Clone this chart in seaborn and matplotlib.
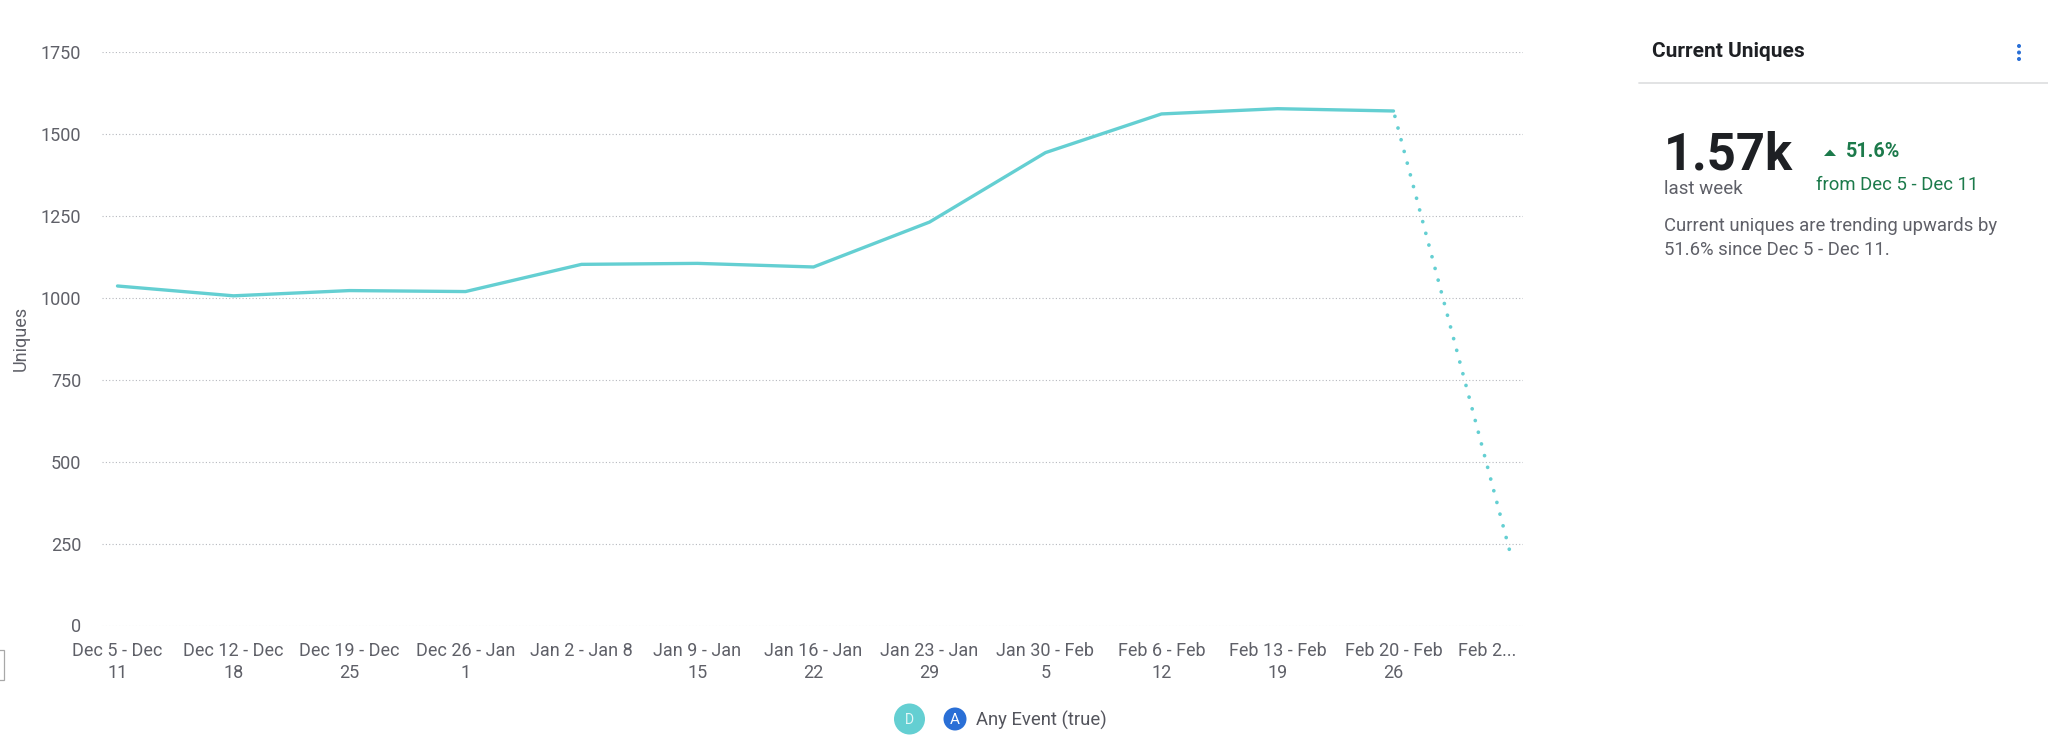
import matplotlib
matplotlib.use('Agg')
import matplotlib.pyplot as plt
import pandas as pd
import seaborn as sns
from matplotlib.patches import Circle, Polygon, Rectangle
from matplotlib.transforms import ScaledTranslation

week_labels = ['Dec 5 - Dec\n11', 'Dec 12 - Dec\n18', 'Dec 19 - Dec\n25', 'Dec 26 - Jan\n1',
               'Jan 2 - Jan 8', 'Jan 9 - Jan\n15', 'Jan 16 - Jan\n22', 'Jan 23 - Jan\n29',
               'Jan 30 - Feb\n5', 'Feb 6 - Feb\n12', 'Feb 13 - Feb\n19', 'Feb 20 - Feb\n26',
               'Feb 2...']
weeks = list(range(13))
uniques = [1036, 1006, 1022, 1019, 1102, 1105, 1094, 1231, 1443, 1561, 1577, 1570, 230]
complete_weeks = 12
y_ticks = [0, 250, 500, 750, 1000, 1250, 1500, 1750]

W, H = 2048, 748
TEAL = '#64cfd2'
GREEN = '#1c7a4b'
GREY = '#5f6068'
DARK = '#1e2024'

sns.set_style('white')
plt.rcParams['font.family'] = ['Roboto', 'DejaVu Sans']

df = pd.DataFrame({'week': weeks, 'uniques': uniques})

fig = plt.figure(figsize=(W / 100, H / 100), dpi=100)
ax = fig.add_axes([102 / W, 1 - 625.5 / H, (1523 - 102) / W, (625.5 - 52) / H])

# solid for finished weeks, dotted into the unfinished one
sns.lineplot(data=df.iloc[:complete_weeks], x='week', y='uniques', color=TEAL, linewidth=2.4, ax=ax)
sns.lineplot(data=df.iloc[complete_weeks - 1:], x='week', y='uniques', color=TEAL, linewidth=2.7,
             linestyle=(1.757, (0.01, 3.217)), dash_capstyle='round', ax=ax)

ax.set_xlim(-15.5 / 116, 12 + 13.5 / 116)
ax.set_ylim(0, 1750)
ax.set_xticks(weeks)
ax.set_xticklabels(week_labels, fontsize=13, color=GREY, linespacing=1.24)
ax.set_yticks(y_ticks)
ax.set_yticklabels([str(v) for v in y_ticks], fontsize=13, color=GREY)
ax.tick_params(axis='x', length=0, pad=12)
ax.tick_params(axis='y', length=0, pad=15)
ax.grid(axis='y', color='#b6b8be', linewidth=0.8, linestyle=(0, (1, 2)))
ax.set_axisbelow(True)
ax.set_xlabel('')
ax.set_ylabel('')
sns.despine(ax=ax, left=True, bottom=True, top=True, right=True)

# the last label is truncated and pushed back inside the plot area
last = ax.get_xticklabels()[-1]
last.set_ha('right')
last.set_transform(last.get_transform() + ScaledTranslation(7 / 100, 0, fig.dpi_scale_trans))

# side panel and legend are placed in pixel coordinates
ov = fig.add_axes([0, 0, 1, 1])
ov.set_xlim(0, W)
ov.set_ylim(H, 0)
ov.axis('off')
ov.patch.set_alpha(0)

ov.text(21, 338, 'Uniques', rotation=90, ha='center', va='center', fontsize=13, color=GREY)
ov.add_patch(Rectangle((-2, 650), 5.5, 30, fill=False, edgecolor='#a8a8a8', linewidth=0.9))

ov.add_patch(Circle((909.5, 719), 15.5, color=TEAL, linewidth=0))
ov.text(909.5, 720, 'D', ha='center', va='center', fontsize=10, color='#e4f7f7')
ov.add_patch(Circle((955, 719), 11.5, color='#2a6fd6', linewidth=0))
ov.text(955, 720, 'A', ha='center', va='center', fontsize=11, color='white')
ov.text(975.5, 720, 'Any Event (true)', ha='left', va='center', fontsize=13.3, color='#54555d')

ov.text(1652, 51, 'Current Uniques', ha='left', va='center', fontsize=15, fontweight='bold', color=DARK)
for dot_y in [46, 52.5, 59]:
    ov.add_patch(Circle((2019, dot_y), 2, color='#2a6fd6', linewidth=0))
ov.plot([1639, W], [83, 83], color='#dfe0e2', linewidth=1.3)

ov.text(1664, 169, '1.57k', ha='left', va='baseline', fontsize=36.5, fontweight='bold', color=DARK)
ov.text(1664, 194, 'last week', ha='left', va='baseline', fontsize=13.5, color=GREY)
ov.add_patch(Polygon([[1824, 156], [1836, 156], [1830, 149.5]], color=GREEN, linewidth=0))
ov.text(1846, 157, '51.6%', ha='left', va='baseline', fontsize=14.2, fontweight='bold', color=GREEN)
ov.text(1816, 190, 'from Dec 5 - Dec 11', ha='left', va='baseline', fontsize=13.3, color=GREEN)
ov.text(1664, 231, 'Current uniques are trending upwards by', ha='left', va='baseline', fontsize=13.3, color=GREY)
ov.text(1664, 255, '51.6% since Dec 5 - Dec 11.', ha='left', va='baseline', fontsize=13.3, color=GREY)

fig.savefig('out.png', dpi=100, facecolor='white')
